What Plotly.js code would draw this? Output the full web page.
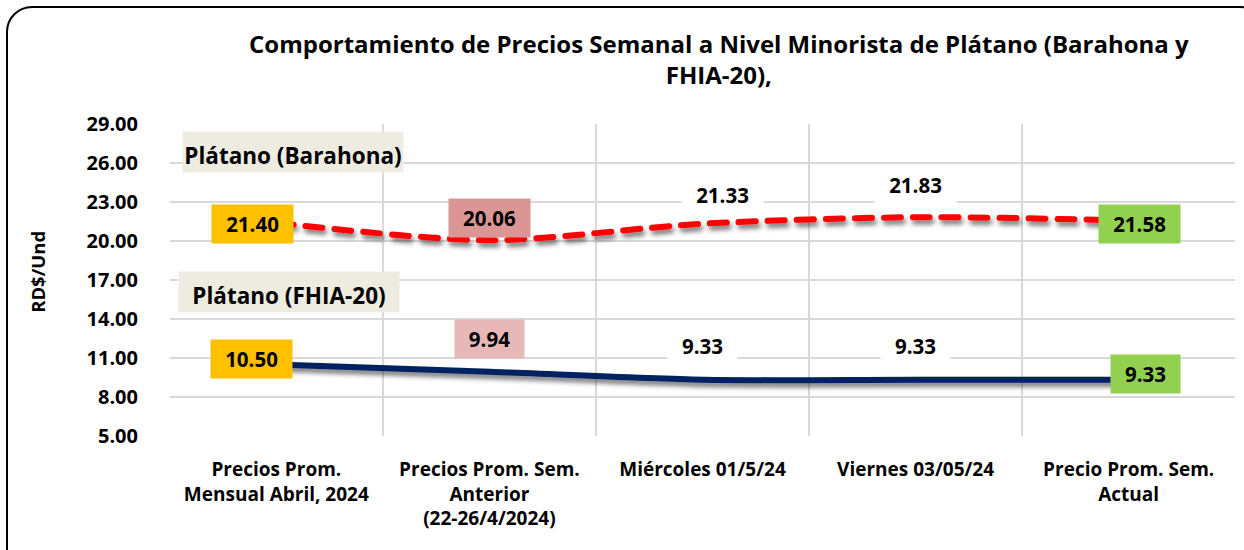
<!DOCTYPE html>
<html>
<head>
<meta charset="utf-8">
<script src="https://cdn.plot.ly/plotly-3.0.1.min.js"></script>
<style>
  html, body { margin: 0; padding: 0; background: #fff; overflow: hidden; }
  #wrap { position: relative; width: 1244px; height: 550px; overflow: hidden; }
  #chart { position: absolute; left: 0; top: 0; width: 1244px; height: 550px; }
  #frame { position: absolute; left: 6px; top: 6px; width: 1260px; height: 570px;
           border: 2px solid #000; border-radius: 26px; pointer-events: none; box-sizing: border-box; }
</style>
</head>
<body>
<div id="wrap">
  <div id="chart"></div>
  <div id="frame"></div>
</div>
<script>
// ---- data ----
const categories = [
  'Precios Prom.<br>Mensual Abril, 2024',
  'Precios Prom. Sem.<br>Anterior<br>(22-26/4/2024)',
  'Miércoles 01/5/24',
  'Viernes 03/05/24',
  'Precio Prom. Sem.<br>Actual'
];
const barahona = [21.40, 20.06, 21.33, 21.83, 21.58];
const fhia = [10.50, 9.94, 9.33, 9.33, 9.33];
const yTickVals = [5, 8, 11, 14, 17, 20, 23, 26, 29];
const seriesNames = ['Plátano (Barahona)', 'Plátano (FHIA-20)'];
const titleText = 'Comportamiento de Precios Semanal a Nivel Minorista de Plátano (Barahona y<br>FHIA-20),';
const yTitle = 'RD$/Und';

// ---- styling ----
const FONT = '"Open Sans", Lato, sans-serif';
const xIdx = categories.map((c, i) => i);

// label styles per point: [bg, xshift, yshift, width]
const barLabelStyle = [
  ['#FFC000', -24, -1, 77],
  ['#DA9694', 0, 22, 77],
  ['#FFFFFF', 20, 29, 77],
  ['#FFFFFF', 0, 32, 77],
  ['#92D050', 11, -4, 77]
];
const fhiaLabelStyle = [
  ['#FFC000', -25, 6, 77],
  ['#E6B9B8', 0, 33, 65],
  ['#FFFFFF', 0, 34, 65],
  ['#FFFFFF', 0, 34, 65],
  ['#92D050', 17, 6, 65]
];

function makeLabels(vals, styles) {
  return vals.map((v, i) => ({
    x: xIdx[i], y: v, xref: 'x', yref: 'y',
    text: '<b>' + v.toFixed(2) + '</b>',
    showarrow: false,
    xshift: styles[i][1], yshift: styles[i][2],
    width: styles[i][3], height: 34,
    bgcolor: styles[i][0],
    borderpad: 2,
    font: { family: FONT, size: 20.5, color: '#000' }
  }));
}

const traces = [
  {
    x: xIdx, y: barahona, name: seriesNames[0], type: 'scatter', mode: 'lines',
    line: { color: '#FF0000', width: 6, dash: '17px,12px', shape: 'spline', smoothing: 0.8 },
    hoverinfo: 'skip'
  },
  {
    x: xIdx, y: fhia, name: seriesNames[1], type: 'scatter', mode: 'lines',
    line: { color: '#002060', width: 6, shape: 'spline', smoothing: 0.8 },
    hoverinfo: 'skip'
  }
];

const annotations = [
  ...makeLabels(barahona, barLabelStyle),
  ...makeLabels(fhia, fhiaLabelStyle),
  {
    xref: 'paper', yref: 'paper', x: 0.1155, y: 0.91, xanchor: 'center', yanchor: 'middle',
    text: '<b>' + seriesNames[0] + '</b>', showarrow: false,
    bgcolor: '#EEECE1', width: 218, height: 38, valign: 'bottom', borderpad: 1,
    font: { family: FONT, size: 22.5, color: '#000' }
  },
  {
    xref: 'paper', yref: 'paper', x: 0.1117, y: 0.4615, xanchor: 'center', yanchor: 'middle',
    text: '<b>' + seriesNames[1] + '</b>', showarrow: false,
    bgcolor: '#EEECE1', width: 218, height: 38, valign: 'bottom', borderpad: 1,
    font: { family: FONT, size: 22.5, color: '#000' }
  },
  {
    xref: 'paper', yref: 'paper', x: 0.5155, y: 1.208, xanchor: 'center', yanchor: 'middle',
    text: '<b>' + titleText + '</b>', showarrow: false,
    font: { family: FONT, size: 24, color: '#000' }
  },
  {
    xref: 'paper', yref: 'paper', x: -0.124, y: 0.526, xanchor: 'center', yanchor: 'middle',
    text: '<b>' + yTitle + '</b>', showarrow: false, textangle: -90,
    font: { family: FONT, size: 18.5, color: '#000' }
  }
];

const layout = {
  width: 1244, height: 550,
  margin: { l: 170, r: 9, t: 124, b: 114 },
  paper_bgcolor: '#FFFFFF', plot_bgcolor: '#FFFFFF',
  showlegend: false,
  xaxis: {
    type: 'linear', range: [-0.499, 4.499],
    tickmode: 'array', tickvals: xIdx, ticktext: categories.map(c => '<b>' + c.split('<br>').join('</b><br><b>') + '</b>'),
    showgrid: false, zeroline: false, showline: false,
    ticks: 'outside', ticklen: 16, tickcolor: 'rgba(0,0,0,0)',
    tickfont: { family: FONT, size: 19, color: '#000' },
    minor: { tickmode: 'linear', tick0: 0.5, dtick: 1, showgrid: true, gridcolor: '#D9D9D9', gridwidth: 1.5, ticks: '' }
  },
  yaxis: {
    range: [5, 29], tickmode: 'array', tickvals: yTickVals,
    ticktext: yTickVals.map(v => '<b>' + v.toFixed(2) + '</b>'),
    showgrid: true, gridcolor: '#D9D9D9', gridwidth: 1.5,
    zeroline: false, showline: false,
    ticks: 'outside', ticklen: 27, tickcolor: 'rgba(0,0,0,0)',
    tickfont: { family: FONT, size: 20, color: '#000' }
  },
  annotations: annotations
};

Plotly.newPlot('chart', traces, layout, { staticPlot: true, displayModeBar: false }).then(gd => {
  const svg = gd.querySelector('.main-svg');
  const NS = 'http://www.w3.org/2000/svg';
  let defs = svg.querySelector('defs');
  if (!defs) { defs = document.createElementNS(NS, 'defs'); svg.insertBefore(defs, svg.firstChild); }
  const f = document.createElementNS(NS, 'filter');
  f.setAttribute('id', 'lineShadow');
  f.setAttribute('x', '-10%'); f.setAttribute('y', '-100%');
  f.setAttribute('width', '120%'); f.setAttribute('height', '300%');
  f.innerHTML = '<feGaussianBlur in="SourceAlpha" stdDeviation="2.5"/>' +
    '<feOffset dx="2" dy="4" result="ob"/>' +
    '<feComponentTransfer><feFuncA type="linear" slope="0.55"/></feComponentTransfer>' +
    '<feMerge><feMergeNode/><feMergeNode in="SourceGraphic"/></feMerge>';
  defs.appendChild(f);
  gd.querySelectorAll('.scatterlayer .js-line').forEach(p => {
    p.setAttribute('filter', 'url(#lineShadow)');
    p.style.strokeLinecap = 'round';
  });
});
</script>
</body>
</html>
